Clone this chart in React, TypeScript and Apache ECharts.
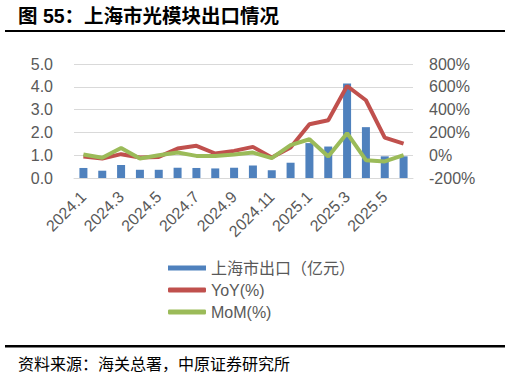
import React, { useEffect, useRef } from "react";
import * as echarts from "echarts";

const categories = [
  "2024.1", "2024.2", "2024.3", "2024.4", "2024.5", "2024.6", "2024.7", "2024.8", "2024.9",
  "2024.10", "2024.11", "2024.12", "2025.1", "2025.2", "2025.3", "2025.4", "2025.5", "2025.6",
];
const exportValues = [0.44, 0.32, 0.57, 0.36, 0.36, 0.45, 0.44, 0.42, 0.45, 0.55, 0.34, 0.67, 1.53, 1.38, 4.15, 2.23, 0.95, 0.95];
const yoyValues = [-12, -29, 9, -20, -15, 58, 82, 15, 38, 73, -20, 67, 272, 307, 607, 482, 155, 102];
const momValues = [6, -23, 64, -29, 0, 23, -6, -6, 6, 23, -26, 88, 140, -12, 193, -44, -55, 0];
const leftTicks = { min: 0, max: 5, interval: 1 };
const rightTicks = { min: -200, max: 800, interval: 200 };

const FONT = "'Liberation Sans', 'Noto Sans CJK SC', sans-serif";
const GRAY = "#595959";

export default function App() {
  const ref = useRef<HTMLDivElement>(null);
  useEffect(() => {
    const chart = echarts.init(ref.current!, null, { renderer: "svg" });
    chart.setOption({
      animation: false,
      backgroundColor: "#ffffff",
      textStyle: { fontFamily: FONT },
      grid: { left: 74, right: 97, top: 64, bottom: 200 },
      graphic: [
        {
          type: "text",
          left: 18,
          top: 6,
          style: { text: "图 55：上海市光模块出口情况", font: `bold 19.5px ${FONT}`, fill: "#000" },
        },
        { type: "rect", shape: { x: 5, y: 30, width: 500, height: 2 }, style: { fill: "#000" } },
        { type: "rect", shape: { x: 5, y: 345, width: 500, height: 2.5 }, style: { fill: "#000" } },
        {
          type: "text",
          left: 18,
          top: 355,
          style: { text: "资料来源：海关总署，中原证券研究所", font: `16px 'Noto Sans CJK SC', sans-serif`, fill: "#000" },
        },
      ],
      legend: {
        orient: "vertical",
        left: 163,
        top: 255,
        itemGap: 6,
        itemWidth: 38,
        itemHeight: 5,
        textStyle: { fontSize: 16, color: GRAY, fontFamily: FONT },
        data: [
          { name: "上海市出口（亿元）", icon: "rect" },
          { name: "YoY(%)", icon: "roundRect" },
          { name: "MoM(%)", icon: "roundRect" },
        ],
      },
      xAxis: {
        type: "category",
        data: categories,
        axisLine: { lineStyle: { color: "#d9d9d9", width: 1 } },
        axisTick: { interval: 1, length: 5, lineStyle: { color: "#d9d9d9" } },
        axisLabel: { interval: 1, rotate: 45, fontSize: 16, color: GRAY, margin: 16 },
      },
      yAxis: [
        {
          type: "value",
          ...leftTicks,
          axisLabel: { fontSize: 16, color: GRAY, margin: 21, formatter: (v: number) => v.toFixed(1) },
          splitLine: { lineStyle: { color: "#d9d9d9", width: 1 } },
          axisLine: { show: false },
          axisTick: { show: false },
        },
        {
          type: "value",
          ...rightTicks,
          axisLabel: { fontSize: 16, color: GRAY, margin: 16, formatter: "{value}%" },
          splitLine: { show: false },
          axisLine: { show: false },
          axisTick: { show: false },
        },
      ],
      series: [
        {
          name: "上海市出口（亿元）",
          type: "bar",
          data: exportValues,
          barWidth: 8,
          itemStyle: { color: "#4f81bd" },
        },
        {
          name: "YoY(%)",
          type: "line",
          yAxisIndex: 1,
          data: yoyValues,
          showSymbol: false,
          symbol: "none",
          lineStyle: { color: "#c0504d", width: 4 },
          itemStyle: { color: "#c0504d" },
        },
        {
          name: "MoM(%)",
          type: "line",
          yAxisIndex: 1,
          data: momValues,
          showSymbol: false,
          symbol: "none",
          lineStyle: { color: "#9bbb59", width: 4 },
          itemStyle: { color: "#9bbb59" },
        },
      ],
    });
    return () => chart.dispose();
  }, []);
  return <div ref={ref} style={{ position: "fixed", left: 0, top: 0, width: 510, height: 378 }} />;
}
